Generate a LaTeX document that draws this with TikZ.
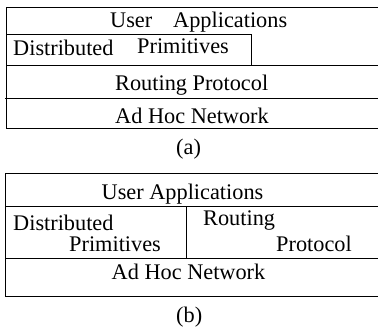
\documentclass[tikz,border=0pt]{standalone}
\usepackage{fontspec}
\setmainfont{Liberation Serif}
\begin{document}
\begin{tikzpicture}[x=1pt,y=-1pt,
  layer/.style={line width=0.9pt},
  lbl/.style={anchor=base west,inner sep=0pt,font=\fontsize{22.3}{26}\selectfont}]
\useasboundingbox (0,0) rectangle (378,327);
% Pile (a)
\draw[layer] (378,7) -- (6,7) -- (6,128.5) -- (378,128.5);
\draw[layer] (6,34) -- (251,34) -- (251,65);
\draw[layer] (6,65) -- (378,65);
\draw[layer] (5,98) -- (378,98);
\node[lbl] (userA) at (110,27) {User};
\node[lbl] (applA) at (173,27) {Applications};
\node[lbl] (distA) at (13,55.5) {Distributed};
\node[lbl] (primA) at (137,53.5) {Primitives};
\node[lbl] (routA) at (115,90) {Routing Protocol};
\node[lbl] (adhocA) at (115,123) {Ad Hoc Network};
\node[lbl] (capA) at (176,154) {(a)};
% Pile (b)
\draw[layer] (378,173) -- (5,173) -- (5,296.5) -- (378,296.5);
\draw[layer] (5,206) -- (378,206);
\draw[layer] (186,206) -- (186,258);
\draw[layer] (5,258) -- (378,258);
\node[lbl] (userB) at (101.5,199) {User Applications};
\node[lbl] (distB) at (13,230) {Distributed};
\node[lbl] (primB) at (69,251) {Primitives};
\node[lbl] (routB) at (203,225) {Routing};
\node[lbl] (protB) at (276,251) {Protocol};
\node[lbl] (adhocB) at (111.5,279) {Ad Hoc Network};
\node[lbl] (capB) at (176,322) {(b)};
\end{tikzpicture}
\end{document}
